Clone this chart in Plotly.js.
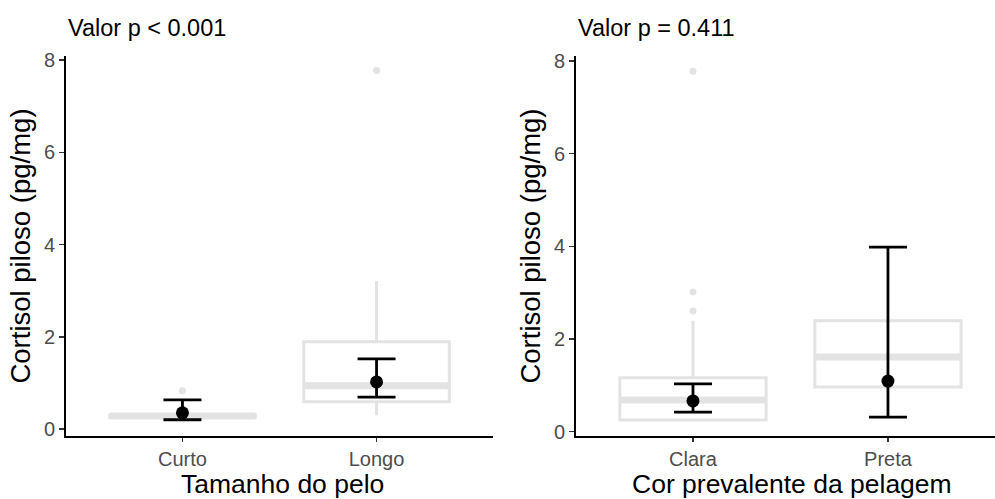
<!DOCTYPE html>
<html>
<head>
<meta charset="utf-8">
<script src="https://cdn.plot.ly/plotly-3.0.1.min.js"></script>
<style>html,body{margin:0;padding:0;background:#fff;}#chart{width:995px;height:499px;}</style>
</head>
<body>
<div id="chart"></div>
<script>
// ---- Panel 1: Tamanho do pelo ----
const hairCats = ['Curto', 'Longo'];
const hairQ1 = [0.25, 0.59];
const hairMedian = [0.28, 0.94];
const hairQ3 = [0.31, 1.89];
const hairLower = [0.23, 0.30];
const hairUpper = [0.33, 3.21];
const hairOutCat = ['Curto', 'Longo'];
const hairOutVal = [0.83, 7.77];
const hairMean = [0.35, 1.02];
const hairCiLow = [0.20, 0.69];
const hairCiHigh = [0.63, 1.52];
const hairP = 'Valor p < 0.001';

// ---- Panel 2: Cor prevalente da pelagem ----
const coatCats = ['Clara', 'Preta'];
const coatQ1 = [0.25, 0.96];
const coatMedian = [0.68, 1.61];
const coatQ3 = [1.16, 2.39];
const coatLower = [0.23, 0.96];
const coatUpper = [2.39, 2.39];
const coatOutCat = ['Clara', 'Clara', 'Clara'];
const coatOutVal = [3.01, 2.60, 7.78];
const coatMean = [0.66, 1.09];
const coatCiLow = [0.42, 0.31];
const coatCiHigh = [1.03, 3.98];
const coatP = 'Valor p = 0.411';

const yTitle = 'Cortisol piloso (pg/mg)';
const xTitle1 = 'Tamanho do pelo';
const xTitle2 = 'Cor prevalente da pelagem';

const BOXC = '#E3E3E3';
const FONT = 'Liberation Sans, Arial, sans-serif';
const BW = 0.75;

function panel(cats, q1, med, q3, lo, hi, outCat, outVal, mean, ciLo, ciHi, xa, ya) {
  const pos = cats.map((c, i) => i + 1);
  const tr = [];
  tr.push({
    type: 'box', x: pos, q1: q1, median: med, q3: q3, lowerfence: lo, upperfence: hi,
    width: BW, whiskerwidth: 0, boxpoints: false,
    line: {color: BOXC, width: 3}, fillcolor: 'rgba(255,255,255,0)',
    xaxis: xa, yaxis: ya, hoverinfo: 'skip', showlegend: false
  });
  // thick median lines (ggplot fatten)
  const mx = [], my = [];
  pos.forEach((p, i) => { mx.push(p - BW / 2, p + BW / 2, null); my.push(med[i], med[i], null); });
  tr.push({type: 'scatter', mode: 'lines', x: mx, y: my, line: {color: BOXC, width: 7},
    xaxis: xa, yaxis: ya, hoverinfo: 'skip', showlegend: false});
  // outliers
  tr.push({type: 'scatter', mode: 'markers', x: outCat.map(c => cats.indexOf(c) + 1), y: outVal,
    marker: {color: BOXC, size: 7}, xaxis: xa, yaxis: ya, showlegend: false});
  // mean + CI
  tr.push({type: 'scatter', mode: 'markers', x: pos, y: mean,
    marker: {color: '#000', size: 13},
    error_y: {type: 'data', symmetric: false,
      array: mean.map((m, i) => ciHi[i] - m), arrayminus: mean.map((m, i) => m - ciLo[i]),
      color: '#000', thickness: 2.8, width: 19},
    xaxis: xa, yaxis: ya, showlegend: false});
  return tr;
}

const data = [].concat(
  panel(hairCats, hairQ1, hairMedian, hairQ3, hairLower, hairUpper, hairOutCat, hairOutVal, hairMean, hairCiLow, hairCiHigh, 'x', 'y'),
  panel(coatCats, coatQ1, coatMedian, coatQ3, coatLower, coatUpper, coatOutCat, coatOutVal, coatMean, coatCiLow, coatCiHigh, 'x2', 'y2')
);

const W = 995, H = 499;
const yDom = [(H - 436) / H, (H - 56) / H];

function xAxis(dom, rng, cats) {
  return {
    domain: dom, range: rng, tickmode: 'array', tickvals: cats.map((c, i) => i + 1), ticktext: cats,
    showline: true, linecolor: '#000', linewidth: 2, ticks: 'outside', ticklen: 4, tickwidth: 1.5, tickcolor: '#333',
    showgrid: false, zeroline: false, tickfont: {family: FONT, size: 20, color: '#4D4D4D'},
    automargin: false
  };
}
function yAxis(rng, anchor) {
  return {
    domain: yDom, range: rng, anchor: anchor, tickvals: [0, 2, 4, 6, 8],
    showline: true, linecolor: '#000', linewidth: 2, ticks: 'outside', ticklen: 5, tickwidth: 1.5, tickcolor: '#333',
    showgrid: false, zeroline: false, tickfont: {family: FONT, size: 20, color: '#4D4D4D'},
    title: {text: yTitle, font: {family: FONT, size: 27.5, color: '#000'}, standoff: 5}, automargin: false
  };
}

const titleY = (H - 484) / H;
const layout = {
  width: W, height: H, margin: {l: 0, r: 0, t: 0, b: 0},
  paper_bgcolor: '#fff', plot_bgcolor: '#fff', showlegend: false,
  xaxis: Object.assign(xAxis([66 / W, 493 / W], [0.4, 2.6], hairCats), {anchor: 'y'}),
  yaxis: yAxis([-0.152, 8.087], 'x'),
  xaxis2: Object.assign(xAxis([576 / W, 1], [0.4, 2.549], coatCats), {anchor: 'y2'}),
  yaxis2: yAxis([-0.097, 8.108], 'x2'),
  annotations: [
    {text: hairP, xref: 'paper', yref: 'paper', x: 66 / W, y: (H - 28) / H, xanchor: 'left', yanchor: 'middle',
     showarrow: false, font: {family: FONT, size: 23.5, color: '#000'}},
    {text: coatP, xref: 'paper', yref: 'paper', x: 576 / W, y: (H - 28) / H, xanchor: 'left', yanchor: 'middle',
     showarrow: false, font: {family: FONT, size: 23.5, color: '#000'}},
    {text: xTitle1, xref: 'paper', yref: 'paper', x: 282 / W, y: titleY, xanchor: 'center', yanchor: 'middle',
     showarrow: false, font: {family: FONT, size: 26.5, color: '#000'}},
    {text: xTitle2, xref: 'paper', yref: 'paper', x: 792 / W, y: titleY, xanchor: 'center', yanchor: 'middle',
     showarrow: false, font: {family: FONT, size: 26.5, color: '#000'}}
  ]
};

Plotly.newPlot('chart', data, layout, {staticPlot: true, displayModeBar: false});
</script>
</body>
</html>
